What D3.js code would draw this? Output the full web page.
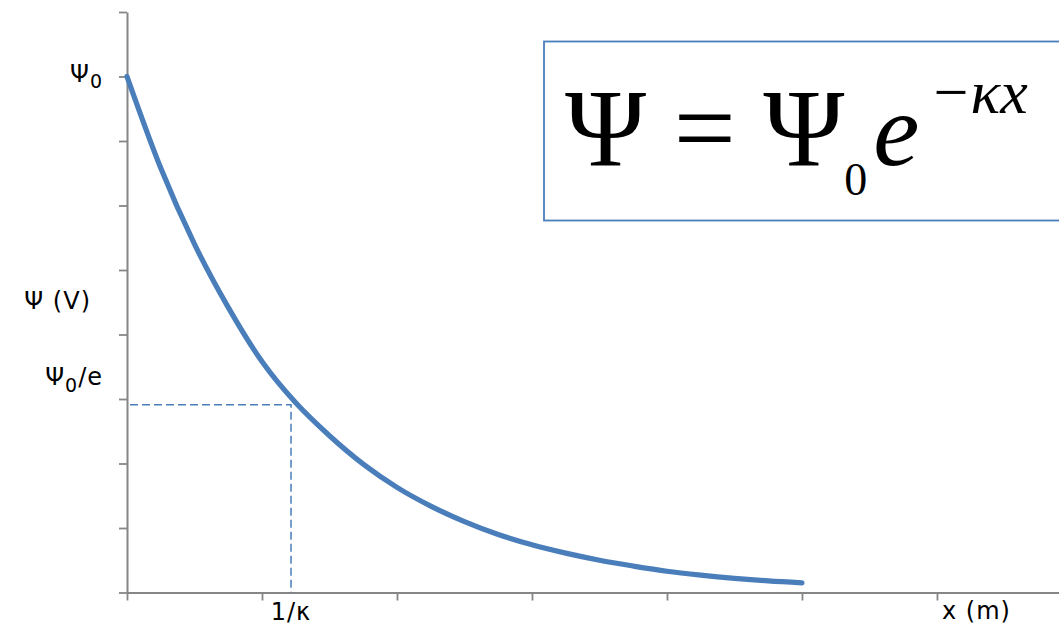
<!DOCTYPE html>
<html>
<head>
<meta charset="utf-8">
<script src="https://cdn.jsdelivr.net/npm/d3@7/dist/d3.min.js"></script>
<style>
  html, body { margin: 0; padding: 0; background: #fff; }
  svg { display: block; }
  .lbl { font-family: "Comic Sans MS", "DejaVu Sans", sans-serif; font-size: 24px; letter-spacing: 1px; fill: #000; }
  .eq { font-family: "Liberation Serif", "Times New Roman", serif; fill: #000; }
</style>
</head>
<body>
<svg id="chart" width="1059" height="625"></svg>
<script>
// Potential decay with distance: sampled positions (m) and potential (V)
const xValues   = [0, 0.25, 0.5, 0.75, 1.0, 1.25, 1.5, 1.75, 2.0, 2.25, 2.5,
                   2.75, 3.0, 3.25, 3.5, 3.75, 4.0, 4.25, 4.5, 4.75, 5.0];
const psiValues = [8.00, 6.58, 5.40, 4.42, 3.58, 2.94, 2.43, 1.99, 1.63, 1.34, 1.10,
                   0.90, 0.74, 0.61, 0.50, 0.41, 0.33, 0.27, 0.22, 0.18, 0.15];

// Decay length marker (x = 1/κ, Ψ = Ψ0/e)
const decayX   = 1.215;
const decayPsi = 2.91;

// Axis ticks
const xTicks = [0, 1, 2, 3, 4, 5, 6];
const yTicks = [0, 1, 2, 3, 4, 5, 6, 7, 8, 9];

const svg = d3.select("#chart");

const x = d3.scaleLinear().domain([0, 6.904]).range([127, 1059]);
const y = d3.scaleLinear().domain([0, 9]).range([592.5, 12]);

const axisColor = "#868686";

// Y axis
const gy = svg.append("g")
  .attr("transform", `translate(${x(0)},0)`)
  .call(d3.axisLeft(y).tickValues(yTicks).tickSize(8).tickSizeOuter(0).tickFormat(""));
gy.select(".domain").attr("stroke", axisColor).attr("stroke-width", 2);
gy.selectAll(".tick line").attr("stroke", axisColor).attr("stroke-width", 1.8);

// X axis
const gx = svg.append("g")
  .attr("transform", `translate(0,${y(0)})`)
  .call(d3.axisBottom(x).tickValues(xTicks).tickSize(8).tickSizeOuter(0).tickFormat(""));
gx.select(".domain").attr("stroke", axisColor).attr("stroke-width", 2);
gx.selectAll(".tick line").attr("stroke", axisColor).attr("stroke-width", 1.8);

// Dashed guides to the decay-length point
const blue = "#4a7ebb";
svg.append("path")
  .attr("d", d3.line()([[x(0) + 3, y(decayPsi)], [x(decayX), y(decayPsi)], [x(decayX), y(0)]]))
  .attr("fill", "none")
  .attr("stroke", blue)
  .attr("stroke-width", 1.5)
  .attr("stroke-dasharray", "8,4");

// Decay curve
const pts = xValues.map((v, i) => [v, psiValues[i]]);
svg.append("path")
  .datum(pts)
  .attr("d", d3.line().x(d => x(d[0])).y(d => y(d[1])).curve(d3.curveMonotoneX))
  .attr("fill", "none")
  .attr("stroke", blue)
  .attr("stroke-width", 5.2)
  .attr("stroke-linecap", "round")
  .attr("stroke-linejoin", "round");

// Y axis labels
const t0 = svg.append("text").attr("class", "lbl").attr("text-anchor", "end")
  .attr("x", 103).attr("y", 82);
t0.append("tspan").text("Ψ");
t0.append("tspan").attr("font-size", 19).attr("dy", 6).text("0");

svg.append("text").attr("class", "lbl").attr("text-anchor", "end")
  .attr("x", 91).attr("y", 309).text("Ψ (V)");

const te = svg.append("text").attr("class", "lbl").attr("text-anchor", "end")
  .attr("x", 103).attr("y", 385);
te.append("tspan").text("Ψ");
te.append("tspan").attr("font-size", 19).attr("dy", 7).text("0");
te.append("tspan").attr("dy", -7).text("/e");

// X axis labels
svg.append("text").attr("class", "lbl").attr("text-anchor", "middle")
  .attr("x", x(decayX)).attr("y", 620).text("1/κ");
svg.append("text").attr("class", "lbl")
  .attr("x", 942).attr("y", 619).text("x (m)");

// Equation box
svg.append("rect")
  .attr("x", 544).attr("y", 41.5).attr("width", 530).attr("height", 179)
  .attr("fill", "#fff").attr("stroke", blue).attr("stroke-width", 1.8);

const eq = svg.append("text").attr("class", "eq").attr("x", 565).attr("y", 165).attr("font-size", 110);
eq.append("tspan").text("Ψ = Ψ");
eq.append("tspan").attr("font-size", 46).attr("dy", 30).text("0");
eq.append("tspan").attr("font-style", "italic").attr("font-size", 104).attr("dx", 6).attr("dy", -30).text("e");
eq.append("tspan").attr("font-size", 62).attr("dx", 14).attr("dy", -52).text("−");
eq.append("tspan").attr("font-size", 62).attr("font-style", "italic").attr("dx", 2).text("κx");
</script>
</body>
</html>
